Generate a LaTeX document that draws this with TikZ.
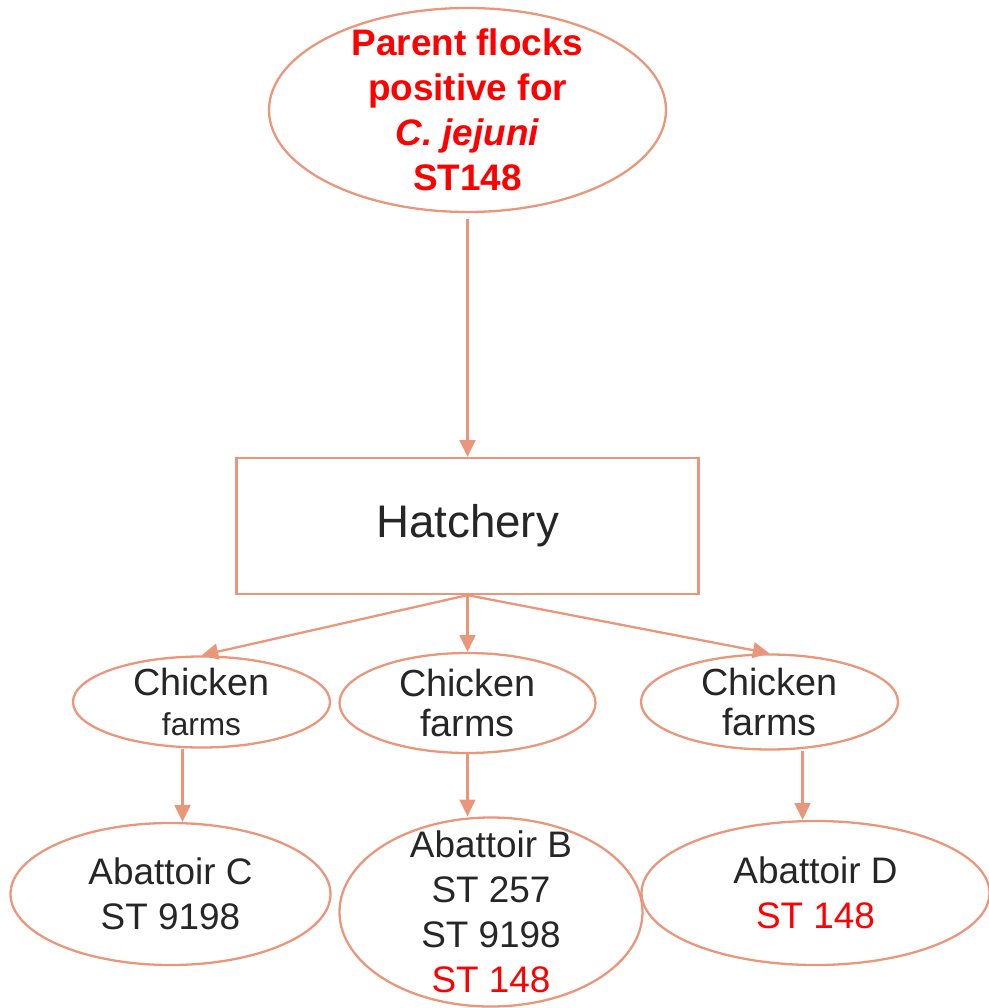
\documentclass[tikz,border=0pt]{standalone}
\usepackage{fontspec}
\setmainfont{Liberation Sans}
\usetikzlibrary{arrows.meta,shapes.geometric,positioning}
\definecolor{dfsalmon}{RGB}{234,150,122}
\definecolor{dfdark}{RGB}{38,38,38}
\definecolor{dfred}{RGB}{255,0,0}
\tikzstyle{arrow} = [line width=1.3pt,-{Triangle[length=9.5pt,width=9pt]},color=dfsalmon]
\tikzstyle{site} = [ellipse, inner sep=-0.4cm, align=center, draw=dfsalmon, line width=1.3pt, text=dfdark, font=\fontsize{21}{25.5}\selectfont]
\tikzstyle{hatchbox} = [rectangle, inner sep=0pt, align=center, draw=dfsalmon, line width=1.3pt, text=dfdark, font=\fontsize{26}{30}\selectfont]

\begin{document}
\begin{tikzpicture}
\useasboundingbox (0,0) rectangle (19.76,-20.16);
% Parent flocks and hatchery
\node (top) [site, minimum width=7.94cm, minimum height=4.08cm, text=dfred, font=\bfseries\fontsize{21}{25.6}\selectfont] at (9.35,-2.2) {Parent flocks\\positive for\\\textit{C. jejuni}\\ST148};

\node (hatch) [hatchbox, below of=top, node distance=8.32cm, minimum width=9.24cm, minimum height=2.72cm] {Hatchery};

% Chicken farms
\node (farmM) [site, below of=hatch, node distance=3.54cm, minimum width=5.12cm, minimum height=2.0cm, font=\fontsize{21.5}{23}\selectfont] {Chicken\\farms};
\node (farmL) [site, left of=farmM, node distance=5.32cm, yshift=0.02cm, minimum width=5.14cm, minimum height=1.82cm, font=\fontsize{21.5}{23}\selectfont] {Chicken\\{\fontsize{18}{23}\selectfont farms}};
\node (farmR) [site, right of=farmM, node distance=6.04cm, yshift=0.02cm, minimum width=5.14cm, minimum height=1.9cm, font=\fontsize{21.5}{23}\selectfont] {Chicken\\farms};

% Abattoirs
\node (abC) [site, below of=farmL, node distance=3.84cm, xshift=-0.62cm, minimum width=6.4cm, minimum height=2.84cm] {Abattoir C\\ST 9198};
\node (abB) [site, below of=farmM, node distance=4.18cm, xshift=0.47cm, minimum width=6.06cm, minimum height=3.78cm] {Abattoir B\\ST 257\\ST 9198\\\textcolor{dfred}{ST 148}};
\node (abD) [site, below of=farmR, node distance=3.82cm, xshift=0.92cm, minimum width=6.96cm, minimum height=2.88cm] {Abattoir D\\\textcolor{dfred}{ST 148}};

% Arrows
\draw[arrow] ([yshift=-0.12cm]top.south) -- (hatch.north);
\draw[arrow] (hatch.south) -- (farmL.north);
\draw[arrow] (hatch.south) -- (farmM.north);
\draw[arrow] (hatch.south) -- (farmR.north);
\coordinate (cL) at ([xshift=-0.38cm]farmL.south);
\coordinate (cR) at ([xshift=0.66cm]farmR.south);
\draw[arrow] (cL) -- (cL |- abC.north);
\draw[arrow] (farmM.south) -- (farmM.south |- abB.north);
\draw[arrow] (cR) -- (cR |- abD.north);
\end{tikzpicture}
\end{document}
